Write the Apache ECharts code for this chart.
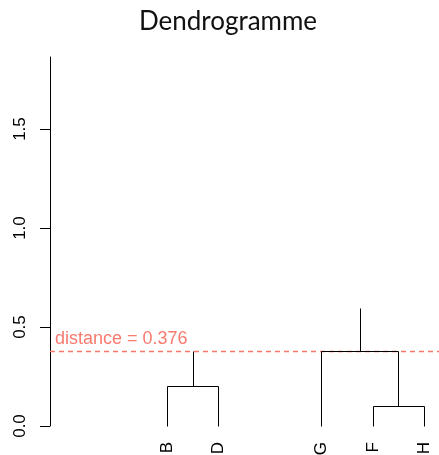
<!DOCTYPE html>
<html>
<head>
<meta charset="utf-8">
<script src="https://cdn.jsdelivr.net/npm/echarts@6/dist/echarts.min.js"></script>
<style>
  html, body { margin: 0; padding: 0; background: #fff; }
  #chart { width: 439px; height: 455px; }
</style>
</head>
<body>
<div id="chart"></div>
<script>
// Leaves and their positions along the horizontal leaf axis
const leafLabels = ['B', 'D', 'G', 'F', 'H'];
const leafSlots = [3, 4, 6, 7, 8];
const slotRange = [0.72, 8.28];

// Merges: [left node, right node, merge height]
const merges = [
  ['B', 'D', 0.198],
  ['F', 'H', 0.0975],
  ['G', 'FH', 0.376]
];
// Stems rising above cluster roots: [node, top height]
const stems = [
  ['BD', 0.376],
  ['GFH', 0.595]
];

const cutHeight = 0.376;
const yTicks = [0, 0.5, 1.0, 1.5];
const yMax = 1.864;

const ink = '#000000';
const cutColor = '#F87A6E';
const sans = '"Liberation Sans", Arial, sans-serif';

// Walk the merges to get the line segments of the tree
const nodes = {};
leafLabels.forEach((name, i) => { nodes[name] = { x: leafSlots[i], h: 0 }; });
const segments = [];
merges.forEach(([a, b, h]) => {
  const A = nodes[a], B = nodes[b];
  segments.push([A.x, A.h, A.x, h]);
  segments.push([B.x, B.h, B.x, h]);
  segments.push([A.x, h, B.x, h]);
  nodes[a + b] = { x: (A.x + B.x) / 2, h: h };
});
stems.forEach(([name, top]) => {
  const N = nodes[name];
  segments.push([N.x, N.h, N.x, top]);
});

const leafData = leafLabels.map((name, i) => [leafSlots[i], 0, name]);

function crisp(v) { return Math.round(v - 0.5) + 0.5; }

const chart = echarts.init(document.getElementById('chart'), null, { renderer: 'canvas' });

chart.setOption({
  animation: false,
  backgroundColor: '#ffffff',
  title: {
    text: 'Dendrogramme',
    left: 223,
    top: 4,
    textAlign: 'center',
    textStyle: { fontFamily: 'Lato, sans-serif', fontSize: 26, fontWeight: 'normal', color: '#111' }
  },
  grid: { left: 50, top: 57, width: 389.6, height: 369, containLabel: false },
  xAxis: {
    type: 'value', min: slotRange[0], max: slotRange[1], show: false
  },
  yAxis: {
    type: 'value', min: 0, max: yMax,
    axisLine: { show: true, lineStyle: { color: ink, width: 1 } },
    axisTick: { show: true, length: 10, customValues: yTicks, lineStyle: { color: ink, width: 1 } },
    axisLabel: {
      customValues: yTicks, rotate: 90, margin: 21,
      formatter: v => Number(v).toFixed(1),
      fontFamily: sans, fontSize: 17, color: ink
    },
    splitLine: { show: false }
  },
  series: [
    {
      // cut level across the full width
      type: 'line',
      z: 1,
      silent: true,
      symbol: 'none',
      data: [[slotRange[0], cutHeight], [slotRange[1], cutHeight]],
      lineStyle: { color: cutColor, width: 1.4, type: [5, 4] },
      itemStyle: { color: cutColor }
    },
    {
      // caption of the cut level
      type: 'custom',
      z: 1,
      silent: true,
      data: [[slotRange[0], cutHeight]],
      renderItem: (params, api) => {
        const cs = params.coordSys;
        const p = api.coord([api.value(0), api.value(1)]);
        return {
          type: 'text',
          x: cs.x + 5, y: crisp(p[1]) - 3,
          style: {
            text: 'distance = ' + cutHeight,
            fill: cutColor, font: '18px ' + sans,
            align: 'left', verticalAlign: 'bottom'
          }
        };
      }
    },
    {
      // tree branches
      type: 'custom',
      z: 2,
      silent: true,
      data: segments,
      renderItem: (params, api) => {
        const p1 = api.coord([api.value(0), api.value(1)]);
        const p2 = api.coord([api.value(2), api.value(3)]);
        return {
          type: 'line',
          shape: { x1: crisp(p1[0]), y1: crisp(p1[1]), x2: crisp(p2[0]), y2: crisp(p2[1]) },
          style: { stroke: ink, lineWidth: 1 }
        };
      }
    },
    {
      // leaf names, written upward below each leaf
      type: 'custom',
      z: 3,
      silent: true,
      data: leafData,
      renderItem: (params, api) => {
        const p = api.coord([api.value(0), api.value(1)]);
        return {
          type: 'text',
          x: p[0], y: p[1] + 16,
          rotation: Math.PI / 2,
          style: {
            text: leafData[params.dataIndex][2],
            fill: ink, font: '17px ' + sans,
            align: 'right', verticalAlign: 'middle'
          }
        };
      }
    }
  ]
});
</script>
</body>
</html>
